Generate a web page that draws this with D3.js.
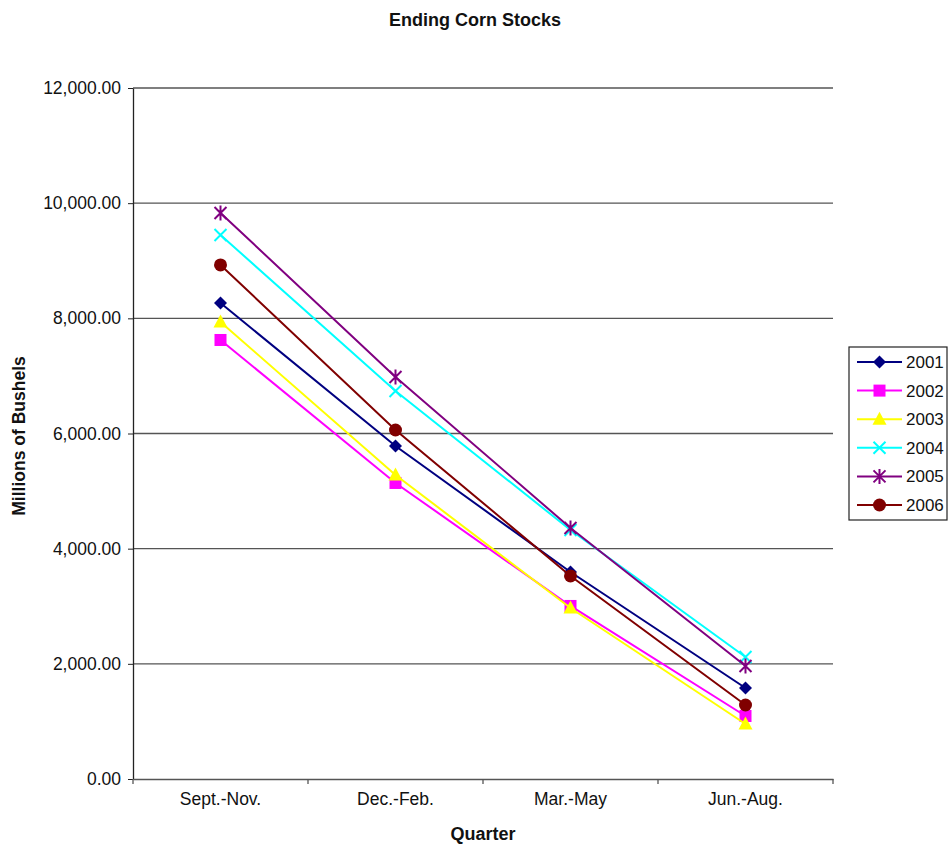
<!DOCTYPE html>
<html><head><meta charset="utf-8">
<script src="https://cdn.jsdelivr.net/npm/d3@7"></script>
<style>body{margin:0;background:#fff;}text{font-family:"Liberation Sans",Arial,sans-serif;fill:#111;}</style>
</head><body><svg id="c" width="949" height="845"></svg>
<script>
const categories = ["Sept.-Nov.", "Dec.-Feb.", "Mar.-May", "Jun.-Aug."];
const years = ["2001", "2002", "2003", "2004", "2005", "2006"];
const v2001 = [8267, 5783, 3595, 1580];
const v2002 = [7624, 5141, 3005, 1094];
const v2003 = [7937, 5280, 2970, 955];
const v2004 = [9448, 6738, 4325, 2119];
const v2005 = [9830, 6982, 4359, 1962];
const v2006 = [8927, 6061, 3526, 1285];
const yTicks = [0, 2000, 4000, 6000, 8000, 10000, 12000];
const colors = ["#000080", "#FF00FF", "#FFFF00", "#00FFFF", "#800080", "#800000"];
const markers = ["diamond", "square", "triangle", "x", "star", "circle"];
const seriesVals = [v2001, v2002, v2003, v2004, v2005, v2006];

const svg = d3.select("#c");
const L = 133, R = 833, T = 88, B = 779;
const x = d3.scaleBand().domain(categories).range([L, R]);
const y = d3.scaleLinear().domain([0, 12000]).range([B, T]);

// gridlines
svg.append("g").selectAll("line").data(yTicks.filter(d => d > 0)).join("line")
  .attr("x1", L).attr("x2", R).attr("y1", d => y(d)).attr("y2", d => y(d))
  .attr("stroke", "#555").attr("stroke-width", 1.3);

// y axis
const fmt = d3.format(",.2f");
const ya = svg.append("g").attr("transform", `translate(${L},0)`)
  .call(d3.axisLeft(y).tickValues(yTicks).tickFormat(fmt).tickSize(5).tickSizeOuter(0));
ya.select(".domain").attr("stroke", "#222").attr("stroke-width", 1.3);
ya.selectAll(".tick line").attr("stroke", "#222");
ya.selectAll(".tick text").attr("font-size", 17.5).attr("font-family", "Liberation Sans, Arial").attr("fill", "#111").attr("x", -12);

// x axis
const xa = svg.append("g").attr("transform", `translate(0,${B})`)
  .call(d3.axisBottom(x).tickSize(0).tickSizeOuter(0));
xa.select(".domain").attr("stroke", "#555").attr("stroke-width", 1.3);
xa.selectAll(".tick text").attr("font-size", 17.5).attr("font-family", "Liberation Sans, Arial").attr("fill", "#111").attr("dy", "1.3em");
const bounds = categories.map(c => x(c)).concat([R]);
svg.append("g").selectAll("line").data(bounds).join("line")
  .attr("x1", d => d).attr("x2", d => d).attr("y1", B).attr("y2", B + 5)
  .attr("stroke", "#555").attr("stroke-width", 1.3);

// titles
svg.append("text").attr("x", 475).attr("y", 26).attr("text-anchor", "middle")
  .attr("font-size", 18).attr("font-weight", "bold").text("Ending Corn Stocks");
svg.append("text").attr("x", 483).attr("y", 840).attr("text-anchor", "middle")
  .attr("font-size", 18).attr("font-weight", "bold").text("Quarter");
svg.append("text").attr("transform", `translate(25,436) rotate(-90)`).attr("text-anchor", "middle")
  .attr("font-size", 17.5).attr("font-weight", "bold").text("Millions of Bushels");

function drawMarker(g, type, color) {
  if (type === "diamond") g.append("path").attr("d", "M0,-6.5L6.5,0L0,6.5L-6.5,0Z").attr("fill", color);
  else if (type === "square") g.append("rect").attr("x", -6).attr("y", -6).attr("width", 12).attr("height", 12).attr("fill", color);
  else if (type === "triangle") g.append("path").attr("d", "M0,-7.5L7,5.5L-7,5.5Z").attr("fill", color);
  else if (type === "circle") g.append("circle").attr("r", 6.5).attr("fill", color);
  else if (type === "x") g.append("path").attr("d", "M-6,-6L6,6M-6,6L6,-6").attr("stroke", color).attr("stroke-width", 2).attr("fill", "none");
  else if (type === "star") g.append("path").attr("d", "M-6,-6L6,6M-6,6L6,-6M0,-7.5L0,7.5").attr("stroke", color).attr("stroke-width", 2).attr("fill", "none");
}

const cx = c => x(c) + x.bandwidth() / 2;
const line = d3.line().x(d => cx(d.c)).y(d => y(d.v));
seriesVals.forEach((vals, i) => {
  const pts = vals.map((v, j) => ({c: categories[j], v}));
  svg.append("path").datum(pts).attr("d", line).attr("fill", "none")
    .attr("stroke", colors[i]).attr("stroke-width", 2);
  pts.forEach(p => {
    const g = svg.append("g").attr("transform", `translate(${cx(p.c)},${y(p.v)})`);
    drawMarker(g, markers[i], colors[i]);
  });
});

// legend
const lg = svg.append("g");
lg.append("rect").attr("x", 849).attr("y", 347).attr("width", 98).attr("height", 173)
  .attr("fill", "#fff").attr("stroke", "#222").attr("stroke-width", 1.2);
years.forEach((yr, i) => {
  const yy = 362 + i * 28.6;
  lg.append("line").attr("x1", 857).attr("x2", 902).attr("y1", yy).attr("y2", yy)
    .attr("stroke", colors[i]).attr("stroke-width", 2);
  const g = lg.append("g").attr("transform", `translate(879.5,${yy})`);
  drawMarker(g, markers[i], colors[i]);
  lg.append("text").attr("x", 906).attr("y", yy + 6).attr("font-size", 17).text(yr);
});
</script></body></html>
